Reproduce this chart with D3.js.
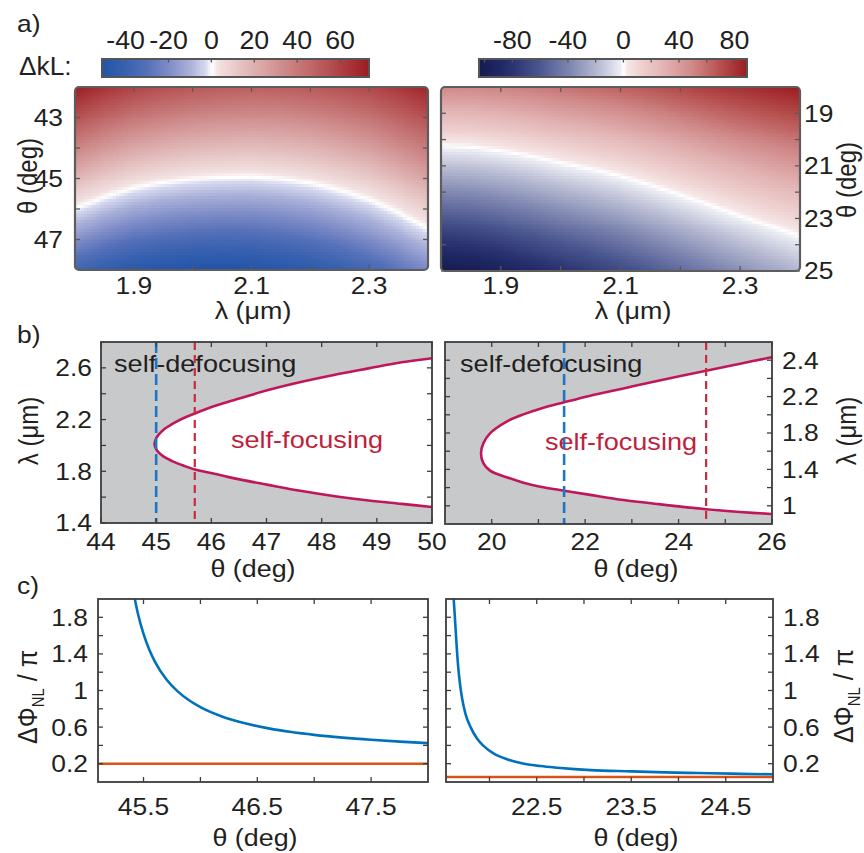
<!DOCTYPE html>
<html>
<head>
<meta charset="utf-8">
<script src="https://cdn.jsdelivr.net/npm/d3@7"></script>
<style>
  body { margin: 0; background: #fff; }
  text { font-family: "Liberation Sans", Arial, Helvetica, sans-serif; fill: #231f20; }
</style>
</head>
<body>
<svg id="fig" width="864" height="853"></svg>
<script>
// ---------------- data ----------------
// (a) phase mismatch ΔkL on a λ–θ grid
const lambdaGrid = [1.80, 1.85, 1.90, 1.95, 2.00, 2.05, 2.10, 2.15, 2.20, 2.25, 2.30, 2.35, 2.40];
const thetaGridLeft = [42, 43, 44, 45, 46, 47, 48];
const dkLLeft = [
  [72.8, 65.2, 59.1, 55.0, 51.9, 50.3, 49.1, 49.5, 51.2, 54.1, 57.7, 63.6, 69.9],
  [54.5, 47.2, 41.3, 37.5, 34.7, 33.3, 32.4, 33.1, 35.0, 38.2, 42.1, 48.2, 54.8],
  [36.2, 29.2, 23.5, 20.0, 17.5, 16.3, 15.7, 16.7, 18.8, 22.3, 26.5, 32.8, 39.7],
  [17.9, 11.2, 5.7, 2.5, 0.3, -0.7, -1.0, 0.3, 2.6, 6.4, 10.9, 17.4, 24.6],
  [-0.4, -6.8, -12.1, -15.1, -16.9, -17.7, -17.7, -16.1, -13.6, -9.5, -4.7, 2.0, 9.5],
  [-18.7, -24.8, -29.9, -32.6, -34.1, -34.7, -34.4, -32.5, -29.8, -25.4, -20.3, -13.4, -5.6],
  [-37.0, -42.8, -47.7, -50.1, -51.3, -51.7, -51.1, -48.9, -46.0, -41.3, -35.9, -28.8, -20.7]
];
const thetaGridRight = [18, 19, 20, 21, 22, 23, 24, 25];
const dkLRight = [
  [49.3, 49.2, 51.2, 53.8, 57.4, 60.4, 63.8, 67.9, 72.6, 77.4, 81.6, 85.3, 88.9],
  [27.4, 27.8, 30.3, 33.5, 37.6, 41.1, 45.0, 49.7, 54.9, 60.2, 64.9, 69.2, 73.3],
  [5.5, 6.4, 9.4, 13.2, 17.8, 21.8, 26.3, 31.5, 37.2, 43.0, 48.3, 53.1, 57.7],
  [-16.4, -15.0, -11.5, -7.1, -2.0, 2.5, 7.5, 13.3, 19.5, 25.8, 31.6, 37.0, 42.1],
  [-38.3, -36.4, -32.4, -27.4, -21.8, -16.8, -11.3, -4.9, 1.8, 8.6, 15.0, 20.9, 26.5],
  [-60.2, -57.8, -53.3, -47.7, -41.6, -36.1, -30.0, -23.1, -15.9, -8.6, -1.7, 4.8, 10.9],
  [-82.1, -79.2, -74.2, -68.0, -61.4, -55.4, -48.8, -41.3, -33.6, -25.8, -18.3, -11.3, -4.7],
  [-104.0, -100.6, -95.1, -88.3, -81.2, -74.7, -67.5, -59.5, -51.3, -43.0, -35.0, -27.4, -20.3]
];
const cbarRangeLeft = [-51, 73.5];
const cbarRangeRight = [-104, 89];
const cbarTicksLeft = [-40, -20, 0, 20, 40, 60];
const cbarLabelsLeft = [-40, -20, 0, 20, 40, 60];
const cbarTicksRight = [-100, -80, -60, -40, -20, 0, 20, 40, 60, 80];
const cbarLabelsRight = [-80, -40, 0, 40, 80];
const cmapStopsLeft = [-51, -40, -30, -20, -10, -3, 0, 3, 15, 35, 55, 73.5];
const cmapColorsLeft = ["#2155a8", "#3961b0", "#5570b9", "#7e8cc7", "#aab1d9", "#d5d8ee", "#ffffff",
                        "#f3e1e1", "#e4bfbf", "#cd8787", "#b55052", "#9b1b20"];
const cmapStopsRight = [-104, -90, -80, -60, -40, -20, -8, -2, 0, 3, 12, 30, 50, 70, 89];
const cmapColorsRight = ["#151b4e", "#1f2763", "#2a3370", "#4b5790", "#7b83ae", "#b2b6cf", "#d8dae7", "#eeeff5", "#ffffff",
                         "#f6e6e6", "#efd2d2", "#e2b2b2", "#cf8787", "#b6504f", "#9b1b20"];

// (b) boundary between self-focusing and self-defocusing
const thetaUpperLeft = [44.97, 45.0, 45.04, 45.13, 45.31, 45.5, 45.7, 46.1, 46.42, 47.03, 47.64, 48.24, 48.85, 49.45, 50.0];
const lambdaUpperLeft = [2.01, 2.055, 2.082, 2.12, 2.17, 2.212, 2.247, 2.31, 2.352, 2.428, 2.492, 2.547, 2.596, 2.643, 2.674];
const thetaLowerLeft = [44.97, 45.0, 45.04, 45.13, 45.31, 45.5, 45.7, 46.1, 46.42, 47.03, 47.64, 48.24, 48.85, 49.45, 50.0];
const lambdaLowerLeft = [2.01, 1.972, 1.948, 1.915, 1.875, 1.843, 1.814, 1.777, 1.745, 1.695, 1.647, 1.607, 1.574, 1.548, 1.524];
const thetaUpperRight = [19.771, 19.82, 19.964, 20.32, 20.68, 21.04, 21.55, 22.11, 22.82, 23.54, 24.59, 25.32, 25.99];
const lambdaUpperRight = [1.577, 1.686, 1.796, 1.925, 2.005, 2.067, 2.137, 2.205, 2.245, 2.286, 2.342, 2.381, 2.416];
const thetaLowerRight = [19.771, 19.82, 19.964, 20.32, 20.68, 21.04, 21.55, 22.11, 22.82, 23.54, 24.59, 25.32, 25.99];
const lambdaLowerRight = [1.577, 1.468, 1.386, 1.314, 1.254, 1.21, 1.166, 1.12, 1.064, 1.02, 0.962, 0.932, 0.91];
const markerThetaLeft = { blue: 45.0, red: 45.7 };
const markerThetaRight = { blue: 21.55, red: 24.59 };
const lambdaTickValuesRight = [1, 1.4, 1.8, 2.2, 2.4];
const lambdaTickLabelsRight = ["1", "1.4", "1.8", "2.2", "2.4"];
const lambdaMinorRight = [1.2, 1.6, 2.0, 2.3];

// (c) nonlinear phase ΔΦNL/π versus θ
const thetaPhaseLeft = [45.42, 45.45, 45.5, 45.55, 45.6, 45.7, 45.8, 45.9, 46.0, 46.2, 46.4, 46.6, 46.8, 47.0, 47.25, 47.5, 47.75, 48.0];
const phaseLeft = [2.02, 1.845, 1.618, 1.448, 1.316, 1.123, 0.99, 0.893, 0.818, 0.711, 0.639, 0.586, 0.546, 0.515, 0.485, 0.461, 0.441, 0.425];
const thresholdLeft = 0.2;
const thetaPhaseRight = [21.618, 21.622, 21.633, 21.648, 21.665, 21.686, 21.711, 21.746, 21.80, 21.87, 21.94, 22.047, 22.19, 22.365, 22.54, 22.72, 22.9, 23.07, 23.5, 23.86, 24.21, 24.56, 25.0];
const phaseRight = [2.05, 1.989, 1.818, 1.564, 1.308, 1.09, 0.909, 0.745, 0.60, 0.473, 0.392, 0.309, 0.247, 0.2, 0.174, 0.156, 0.141, 0.13, 0.116, 0.105, 0.098, 0.091, 0.084];
const thresholdRight = 0.055;

// ---------------- layout ----------------
const box = {
  aL: { x: 75, y: 87, w: 353, h: 183 },
  aR: { x: 441, y: 87, w: 359, h: 184 },
  cbL: { x: 102, y: 59, w: 267, h: 18 },
  cbR: { x: 479, y: 59, w: 268, h: 18 },
  bL: { x: 101, y: 342, w: 331, h: 181 },
  bR: { x: 445, y: 342, w: 327, h: 182 },
  cL: { x: 98, y: 599, w: 330, h: 183 },
  cR: { x: 446, y: 599, w: 327, h: 183 }
};
const TICKF = 24, TICKSX = 1.1;    // tick label font
const TITLEF = 24, TITLESX = 1.12; // axis title font

const svg = d3.select("#fig");
const defs = svg.append("defs");

function txt(g, x, y, s, anchor, size, sx, fill) {
  const t = g.append("text")
    .attr("transform", `translate(${x},${y}) scale(${sx},1)`)
    .attr("text-anchor", anchor)
    .style("font-size", size + "px")
    .text(s);
  if (fill) t.style("fill", fill);
  return t;
}
function vtxt(g, cx, cy, s, size, sx) {
  return g.append("text")
    .attr("transform", `translate(${cx},${cy}) rotate(-90) scale(1,${sx})`)
    .attr("text-anchor", "middle")
    .attr("y", size * 0.35)
    .style("font-size", size + "px")
    .text(s);
}
function ticksAll(g, b, xs, ys, xv, yv, len, color) {
  const tg = g.append("g").attr("stroke", color).attr("stroke-width", 1.3);
  xv.forEach(v => {
    const x = xs(v);
    tg.append("line").attr("x1", x).attr("x2", x).attr("y1", b.y + b.h).attr("y2", b.y + b.h - len);
    tg.append("line").attr("x1", x).attr("x2", x).attr("y1", b.y).attr("y2", b.y + len);
  });
  yv.forEach(v => {
    const y = ys(v);
    tg.append("line").attr("x1", b.x).attr("x2", b.x + len).attr("y1", y).attr("y2", y);
    tg.append("line").attr("x1", b.x + b.w).attr("x2", b.x + b.w - len).attr("y1", y).attr("y2", y);
  });
}
function xLabels(g, xs, vals, y) {
  vals.forEach(v => txt(g, xs(v), y, String(v), "middle", TICKF, TICKSX));
}
function yLabels(g, ys, vals, x, anchor, fmt) {
  vals.forEach((v, i) => txt(g, x, ys(v) + 8.4, fmt ? fmt[i] : String(v), anchor, TICKF, TICKSX));
}
function bilinear(lams, thetas, vals, la, th) {
  let i = d3.bisectRight(lams, la) - 1; i = Math.max(0, Math.min(lams.length - 2, i));
  let j = d3.bisectRight(thetas, th) - 1; j = Math.max(0, Math.min(thetas.length - 2, j));
  const u = (la - lams[i]) / (lams[i + 1] - lams[i]);
  const w = (th - thetas[j]) / (thetas[j + 1] - thetas[j]);
  return (1 - u) * (1 - w) * vals[j][i] + u * (1 - w) * vals[j][i + 1] +
         (1 - u) * w * vals[j + 1][i] + u * w * vals[j + 1][i + 1];
}

// ---------------- panel a ----------------
function heatPanel(id, b, thetas, vals, color, yMajor, yMinor, side) {
  const xs = d3.scaleLinear().domain([1.8, 2.4]).range([b.x, b.x + b.w]);
  const ys = d3.scaleLinear().domain([thetas[0], thetas[thetas.length - 1]]).range([b.y, b.y + b.h]);
  defs.append("clipPath").attr("id", id).append("rect")
    .attr("x", b.x).attr("y", b.y).attr("width", b.w).attr("height", b.h).attr("rx", 4);
  const g = svg.append("g");
  const cells = [];
  const nx = 120, ny = 62;
  const t0 = ys.domain()[0], t1 = ys.domain()[1];
  for (let i = 0; i < nx; i++) {
    for (let j = 0; j < ny; j++) {
      const la = 1.8 + 0.6 * i / nx, lb = 1.8 + 0.6 * (i + 1) / nx;
      const ta = t0 + (t1 - t0) * j / ny, tb = t0 + (t1 - t0) * (j + 1) / ny;
      cells.push({ la, lb, ta, tb, v: bilinear(lambdaGrid, thetas, vals, (la + lb) / 2, (ta + tb) / 2) });
    }
  }
  g.append("g").attr("clip-path", `url(#${id})`)
    .selectAll("rect").data(cells).join("rect")
    .attr("x", d => xs(d.la)).attr("y", d => ys(d.ta))
    .attr("width", d => xs(d.lb) - xs(d.la) + 0.6)
    .attr("height", d => ys(d.tb) - ys(d.ta) + 0.6)
    .attr("fill", d => color(d.v))
    .attr("shape-rendering", "crispEdges");
  ticksAll(g, b, xs, ys, [1.9, 2.0, 2.1, 2.2, 2.3], yMajor.concat(yMinor), 5, "#5a5a5a");
  g.append("rect").attr("x", b.x).attr("y", b.y).attr("width", b.w).attr("height", b.h)
    .attr("rx", 4).attr("fill", "none").attr("stroke", "#5d5d5d").attr("stroke-width", 2.2);
  xLabels(g, xs, [1.9, 2.1, 2.3], 294);
  if (side === "left") yLabels(g, ys, yMajor, b.x - 12, "end");
  else yLabels(g, ys, yMajor, b.x + b.w + 4, "start");
  return { g, xs, ys };
}

const colorLeft = d3.scaleLinear().domain(cmapStopsLeft).range(cmapColorsLeft).clamp(true);
const colorRight = d3.scaleLinear().domain(cmapStopsRight).range(cmapColorsRight).clamp(true);

heatPanel("clipAL", box.aL, thetaGridLeft, dkLLeft, colorLeft, [43, 45, 47], [44, 46], "left");
heatPanel("clipAR", box.aR, thetaGridRight, dkLRight, colorRight, [19, 21, 23, 25], [20, 22, 24], "right");
txt(svg, 253, 319, "λ (μm)", "middle", TITLEF, TITLESX);
txt(svg, 633, 319, "λ (μm)", "middle", TITLEF, TITLESX);
vtxt(svg, 28, 176, "θ (deg)", TITLEF, TITLESX);
vtxt(svg, 847, 180, "θ (deg)", TITLEF, TITLESX);

function colorbar(b, range, color, tickVals, labelVals) {
  const g = svg.append("g");
  const xs = d3.scaleLinear().domain(range).range([b.x, b.x + b.w]);
  const n = 134;
  const dv = (range[1] - range[0]) / n;
  const steps = d3.range(0, n).map(k => range[0] + dv * k);
  g.selectAll("rect.c").data(steps).join("rect")
    .attr("x", d => xs(d)).attr("y", b.y)
    .attr("width", xs(dv) - xs(0) + 0.6).attr("height", b.h)
    .attr("fill", d => color(d + dv / 2)).attr("shape-rendering", "crispEdges");
  g.append("rect").attr("x", b.x).attr("y", b.y).attr("width", b.w).attr("height", b.h)
    .attr("fill", "none").attr("stroke", "#555").attr("stroke-width", 2);
  tickVals.forEach(v => g.append("line").attr("x1", xs(v)).attr("x2", xs(v))
    .attr("y1", b.y).attr("y2", b.y + 3.5).attr("stroke", "#555").attr("stroke-width", 1.3));
  labelVals.forEach(v => txt(g, xs(v), 49, String(v), "middle", 26, 1.03));
}
colorbar(box.cbL, cbarRangeLeft, colorLeft, cbarTicksLeft, cbarLabelsLeft);
colorbar(box.cbR, cbarRangeRight, colorRight, cbarTicksRight, cbarLabelsRight);
txt(svg, 19, 75, "ΔkL:", "start", 25, 1.05);
txt(svg, 17, 32, "a)", "start", 24, 1.1);

// ---------------- panel b ----------------
function regionPanel(id, b, xs, ys, thU, lamU, thL, lamL, marks, xMajor, xMinor, yMajorVals, yMinorVals, yFmt, side, txtPos) {
  const g = svg.append("g");
  defs.append("clipPath").attr("id", id).append("rect")
    .attr("x", b.x).attr("y", b.y).attr("width", b.w).attr("height", b.h);
  const inner = g.append("g").attr("clip-path", `url(#${id})`);
  inner.append("rect").attr("x", b.x).attr("y", b.y).attr("width", b.w).attr("height", b.h).attr("fill", "#c8c9cb");
  const pts = thU.map((t, i) => [t, lamU[i]]).reverse()
    .concat(thL.slice(1).map((t, i) => [t, lamL[i + 1]]));
  const line = d3.line().x(d => xs(d[0])).y(d => ys(d[1])).curve(d3.curveCatmullRom.alpha(0.5));
  inner.append("path").attr("d", line(pts) + "Z").attr("fill", "#fff");
  txt(inner, txtPos.def[0], txtPos.def[1], "self-defocusing", "start", 24, 1.13);
  txt(inner, txtPos.foc[0], txtPos.foc[1], "self-focusing", "middle", 24, 1.13, "#c01f3c");
  inner.append("path").attr("d", line(pts)).attr("fill", "none")
    .attr("stroke", "#c0175a").attr("stroke-width", 2.6);
  inner.append("line").attr("x1", xs(marks.blue)).attr("x2", xs(marks.blue))
    .attr("y1", b.y).attr("y2", b.y + b.h).attr("stroke", "#1f77c4").attr("stroke-width", 2.6)
    .attr("stroke-dasharray", "11,5");
  inner.append("line").attr("x1", xs(marks.red)).attr("x2", xs(marks.red))
    .attr("y1", b.y).attr("y2", b.y + b.h).attr("stroke", "#cc2a3c").attr("stroke-width", 2.2)
    .attr("stroke-dasharray", "8,5");
  ticksAll(g, b, xs, ys, xMajor.concat(xMinor), yMajorVals.concat(yMinorVals), 5, "#3c3c3c");
  g.append("rect").attr("x", b.x).attr("y", b.y).attr("width", b.w).attr("height", b.h)
    .attr("fill", "none").attr("stroke", "#3c3c3c").attr("stroke-width", 1.8);
  xLabels(g, xs, xMajor, 550);
  if (side === "left") yLabels(g, ys, yMajorVals, b.x - 9, "end", yFmt);
  else yLabels(g, ys, yMajorVals, b.x + b.w + 10, "start", yFmt);
}

const bLx = d3.scaleLinear().domain([44, 50]).range([box.bL.x, box.bL.x + box.bL.w]);
const bLy = d3.scaleLinear().domain([1.4, 2.8]).range([box.bL.y + box.bL.h, box.bL.y]);
regionPanel("clipBL", box.bL, bLx, bLy, thetaUpperLeft, lambdaUpperLeft, thetaLowerLeft, lambdaLowerLeft,
  markerThetaLeft, [44, 45, 46, 47, 48, 49, 50], [], [1.4, 1.8, 2.2, 2.6], [1.6, 2.0, 2.4], null, "left",
  { def: [114, 372], foc: [307, 448] });

// right-hand λ axis: evenly spaced labelled ticks
const bRx = d3.scaleLinear().domain([19, 26]).range([box.bR.x, box.bR.x + box.bR.w]);
const bRy = d3.scaleLinear().domain([0.8, 1, 1.4, 1.8, 2.2, 2.4, 2.5])
  .range([0, 0.1, 0.3, 0.5, 0.7, 0.9, 1].map(f => box.bR.y + box.bR.h * (1 - f)));
regionPanel("clipBR", box.bR, bRx, bRy, thetaUpperRight, lambdaUpperRight, thetaLowerRight, lambdaLowerRight,
  markerThetaRight, [20, 22, 24, 26], [21, 23, 25], lambdaTickValuesRight, lambdaMinorRight,
  lambdaTickLabelsRight, "right",
  { def: [460, 372], foc: [621, 450] });

txt(svg, 253, 577, "θ (deg)", "middle", TITLEF, TITLESX);
txt(svg, 636, 577, "θ (deg)", "middle", TITLEF, TITLESX);
vtxt(svg, 29, 431, "λ (μm)", TITLEF, TITLESX);
vtxt(svg, 847, 431, "λ (μm)", TITLEF, TITLESX);
txt(svg, 17, 343, "b)", "start", 24, 1.1);

// ---------------- panel c ----------------
function phasePanel(id, b, xs, th, ph, thr, xMajor, xMinor, side) {
  const ys = d3.scaleLinear().domain([0, 2]).range([b.y + b.h, b.y]);
  const g = svg.append("g");
  defs.append("clipPath").attr("id", id).append("rect")
    .attr("x", b.x).attr("y", b.y).attr("width", b.w).attr("height", b.h);
  const inner = g.append("g").attr("clip-path", `url(#${id})`);
  inner.append("line").attr("x1", b.x).attr("x2", b.x + b.w).attr("y1", ys(thr)).attr("y2", ys(thr))
    .attr("stroke", "#d95319").attr("stroke-width", 2.6);
  const line = d3.line().x((d, i) => xs(th[i])).y(d => ys(d)).curve(d3.curveMonotoneX);
  inner.append("path").attr("d", line(ph)).attr("fill", "none")
    .attr("stroke", "#0072bd").attr("stroke-width", 2.6);
  const yMaj = [0.2, 0.6, 1, 1.4, 1.8], yMin = [0.4, 0.8, 1.2, 1.6];
  ticksAll(g, b, xs, ys, xMajor.concat(xMinor), yMaj.concat(yMin), 5, "#3c3c3c");
  g.append("rect").attr("x", b.x).attr("y", b.y).attr("width", b.w).attr("height", b.h)
    .attr("fill", "none").attr("stroke", "#3c3c3c").attr("stroke-width", 1.8);
  xLabels(g, xs, xMajor, 815);
  if (side === "left") yLabels(g, ys, yMaj, b.x - 10, "end");
  else yLabels(g, ys, yMaj, b.x + b.w + 10, "start");
}
const cLx = d3.scaleLinear().domain([45.1, 48]).range([box.cL.x, box.cL.x + box.cL.w]);
const cRx = d3.scaleLinear().domain([21.54, 25]).range([box.cR.x, box.cR.x + box.cR.w]);
phasePanel("clipCL", box.cL, cLx, thetaPhaseLeft, phaseLeft, thresholdLeft, [45.5, 46.5, 47.5], [46, 47], "left");
phasePanel("clipCR", box.cR, cRx, thetaPhaseRight, phaseRight, thresholdRight, [22.5, 23.5, 24.5], [22, 23, 24], "right");
txt(svg, 255, 846, "θ (deg)", "middle", TITLEF, TITLESX);
txt(svg, 636, 846, "θ (deg)", "middle", TITLEF, TITLESX);
txt(svg, 17, 594, "c)", "start", 24, 1.1);

function phaseTitle(cx, cy) {
  const t = svg.append("text")
    .attr("transform", `translate(${cx},${cy}) rotate(-90) scale(1,${TITLESX})`)
    .attr("text-anchor", "middle").attr("y", 25 * 0.35)
    .style("font-size", "25px");
  t.append("tspan").text("ΔΦ");
  t.append("tspan").attr("dy", 6).style("font-size", "15px").text("NL");
  t.append("tspan").attr("dy", -6).text(" / π");
}
phaseTitle(27, 697);
phaseTitle(843, 696);
</script>
</body>
</html>
